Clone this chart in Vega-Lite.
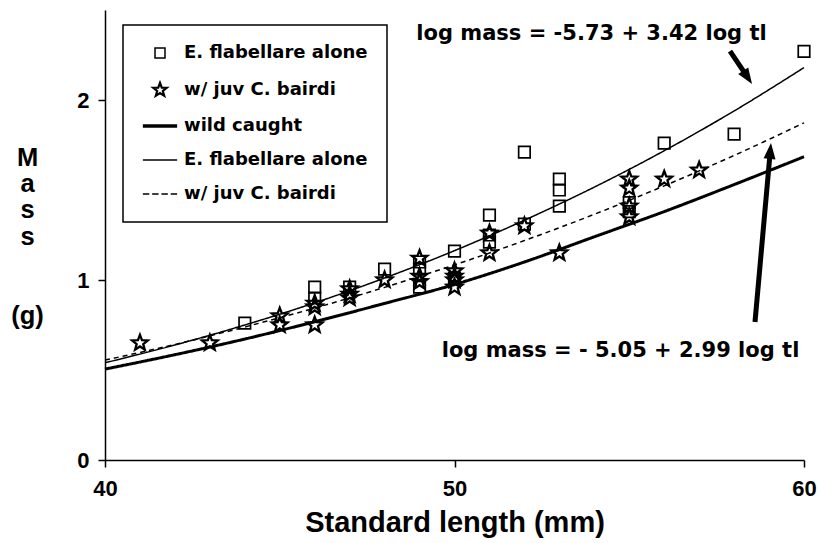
{
  "$schema": "https://vega.github.io/schema/vega-lite/v6.json",
  "width": 699,
  "height": 450,
  "autosize": {"type": "none"},
  "padding": {"left": 105, "top": 10, "right": 15, "bottom": 83},
  "background": "white",
  "config": {"view": {"stroke": null}, "font": "Liberation Sans"},
  "datasets": {
    "curves": [
      {"series": "C", "x": 40, "y": 0.505}, {"series": "C", "x": 42, "y": 0.585}, {"series": "C", "x": 44, "y": 0.672}, {"series": "C", "x": 46, "y": 0.768}, {"series": "C", "x": 48, "y": 0.87}, {"series": "C", "x": 50, "y": 0.975}, {"series": "C", "x": 52, "y": 1.1}, {"series": "C", "x": 54, "y": 1.24}, {"series": "C", "x": 56, "y": 1.38}, {"series": "C", "x": 58, "y": 1.53}, {"series": "C", "x": 60, "y": 1.685},
      {"series": "D", "x": 40, "y": 0.54}, {"series": "D", "x": 42, "y": 0.639}, {"series": "D", "x": 44, "y": 0.75}, {"series": "D", "x": 46, "y": 0.873}, {"series": "D", "x": 48, "y": 1.011}, {"series": "D", "x": 50, "y": 1.163}, {"series": "D", "x": 52, "y": 1.332}, {"series": "D", "x": 54, "y": 1.516}, {"series": "D", "x": 56, "y": 1.718}, {"series": "D", "x": 58, "y": 1.939}, {"series": "D", "x": 60, "y": 2.18},
      {"series": "E", "x": 40, "y": 0.555}, {"series": "E", "x": 42, "y": 0.642}, {"series": "E", "x": 44, "y": 0.739}, {"series": "E", "x": 46, "y": 0.844}, {"series": "E", "x": 48, "y": 0.959}, {"series": "E", "x": 50, "y": 1.084}, {"series": "E", "x": 52, "y": 1.219}, {"series": "E", "x": 54, "y": 1.365}, {"series": "E", "x": 56, "y": 1.523}, {"series": "E", "x": 58, "y": 1.692}, {"series": "E", "x": 60, "y": 1.873}
    ],
    "points": [
      {"series": "A", "x": 44, "y": 0.76}, {"series": "A", "x": 46, "y": 0.96}, {"series": "A", "x": 46, "y": 0.9}, {"series": "A", "x": 47, "y": 0.96}, {"series": "A", "x": 48, "y": 1.06}, {"series": "A", "x": 49, "y": 1.1}, {"series": "A", "x": 49, "y": 1.06}, {"series": "A", "x": 49, "y": 0.96}, {"series": "A", "x": 50, "y": 1.16}, {"series": "A", "x": 50, "y": 1.01}, {"series": "A", "x": 51, "y": 1.36}, {"series": "A", "x": 51, "y": 1.25}, {"series": "A", "x": 51, "y": 1.21}, {"series": "A", "x": 52, "y": 1.71}, {"series": "A", "x": 52, "y": 1.31}, {"series": "A", "x": 53, "y": 1.56}, {"series": "A", "x": 53, "y": 1.5}, {"series": "A", "x": 53, "y": 1.41}, {"series": "A", "x": 55, "y": 1.43}, {"series": "A", "x": 55, "y": 1.38}, {"series": "A", "x": 56, "y": 1.76}, {"series": "A", "x": 58, "y": 1.81}, {"series": "A", "x": 60, "y": 2.27},
      {"series": "B", "x": 41, "y": 0.65}, {"series": "B", "x": 43, "y": 0.65}, {"series": "B", "x": 45, "y": 0.8}, {"series": "B", "x": 45, "y": 0.75}, {"series": "B", "x": 46, "y": 0.87}, {"series": "B", "x": 46, "y": 0.85}, {"series": "B", "x": 46, "y": 0.75}, {"series": "B", "x": 47, "y": 0.95}, {"series": "B", "x": 47, "y": 0.92}, {"series": "B", "x": 47, "y": 0.9}, {"series": "B", "x": 48, "y": 1.0}, {"series": "B", "x": 49, "y": 1.12}, {"series": "B", "x": 49, "y": 1.02}, {"series": "B", "x": 49, "y": 0.99}, {"series": "B", "x": 50, "y": 1.05}, {"series": "B", "x": 50, "y": 1.02}, {"series": "B", "x": 50, "y": 1.0}, {"series": "B", "x": 50, "y": 0.96}, {"series": "B", "x": 51, "y": 1.26}, {"series": "B", "x": 51, "y": 1.15}, {"series": "B", "x": 52, "y": 1.3}, {"series": "B", "x": 53, "y": 1.15}, {"series": "B", "x": 55, "y": 1.56}, {"series": "B", "x": 55, "y": 1.51}, {"series": "B", "x": 55, "y": 1.41}, {"series": "B", "x": 55, "y": 1.35}, {"series": "B", "x": 56, "y": 1.56}, {"series": "B", "x": 57, "y": 1.61}
    ],
    "notes": [
      {"x": 53.92, "y": 2.333, "label": "log mass = -5.73 + 3.42 log tl"},
      {"x": 54.75, "y": 0.572, "label": "log mass = - 5.05 + 2.99 log tl"}
    ],
    "shafts": [
      {"x": 57.883, "y": 2.272, "x2": 58.355, "y2": 2.135},
      {"x": 58.598, "y": 0.767, "x2": 59.03, "y2": 1.706}
    ],
    "heads": [
      {"x": 58.355, "y": 2.135, "angle": 146.4},
      {"x": 59.03, "y": 1.706, "angle": 5.1}
    ]
  },
  "encoding": {
    "x": {
      "field": "x", "type": "quantitative",
      "scale": {"domain": [40, 60], "nice": false, "zero": false},
      "axis": {
        "values": [40, 50, 60], "grid": false,
        "domainColor": "black", "domainWidth": 1.5,
        "tickColor": "black", "tickWidth": 1.5, "tickSize": 7,
        "labelFont": "Liberation Sans", "labelFontWeight": "bold", "labelFontSize": 22, "labelColor": "black",
        "labelPadding": 11, "labelFlush": false, "labelOverlap": false,
        "title": "Standard length (mm)",
        "titleFont": "Liberation Sans", "titleFontWeight": "bold", "titleFontSize": 29, "titleColor": "black", "titlePadding": 9
      }
    },
    "y": {
      "field": "y", "type": "quantitative",
      "scale": {"domain": [0, 2.5], "nice": false, "zero": false},
      "axis": {
        "values": [0, 1, 2], "grid": false,
        "domainColor": "black", "domainWidth": 1.5,
        "tickColor": "black", "tickWidth": 1.5, "tickSize": 7,
        "labelFont": "Liberation Sans", "labelFontWeight": "bold", "labelFontSize": 22, "labelColor": "black",
        "labelPadding": 9,
        "title": ["M", "a", "s", "s", "\u200b", "\u200b", "(g)"],
        "titleAngle": 0, "titleX": -78, "titleY": 155, "titleAlign": "center", "titleBaseline": "alphabetic",
        "titleLineHeight": 26.4,
        "titleFont": "Liberation Sans", "titleFontWeight": "bold", "titleFontSize": 25.5, "titleColor": "black"
      }
    }
  },
  "layer": [
    {
      "data": {"name": "curves"},
      "mark": {"type": "line", "interpolate": "monotone", "color": "black"},
      "encoding": {
        "detail": {"field": "series", "type": "nominal"},
        "strokeWidth": {"condition": {"test": "datum.series === 'C'", "value": 3}, "value": 1.5},
        "strokeDash": {"condition": {"test": "datum.series === 'E'", "value": [5, 4]}, "value": [1, 0]}
      }
    },
    {
      "data": {"name": "points"},
      "mark": {"type": "point", "filled": false, "stroke": "black", "size": 270, "opacity": 1},
      "encoding": {
        "strokeWidth": {"condition": {"test": "datum.series === 'B'", "value": 2.3}, "value": 1.7},
        "shape": {
          "field": "series", "type": "nominal",
          "scale": {
            "domain": ["A", "B", "C", "D", "E"],
            "range": [
              "M-0.7,-0.7H0.7V0.7H-0.7Z",
              "M0,-1L0.247,-0.34L0.951,-0.309L0.399,0.13L0.588,0.809L0,0.42L-0.588,0.809L-0.399,0.13L-0.951,-0.309L-0.247,-0.34Z",
              "M-2.4,0H2.4",
              "M-2.4,0H2.4",
              "M-2.4,0H-1.5M-1.1,0H-0.2M0.2,0H1.1M1.5,0H2.4"
            ]
          },
          "legend": {
            "orient": "none", "legendX": 18, "legendY": 15, "title": null,
            "padding": 19, "strokeColor": "black", "fillColor": "white",
            "symbolOffset": 9, "labelOffset": 15, "rowPadding": 16,
            "symbolSize": 204, "symbolStrokeWidth": 1.5, "symbolFillColor": "transparent", "symbolStrokeColor": "black",
            "labelFont": "DejaVu Sans", "labelFontWeight": "bold", "labelFontSize": 18, "labelColor": "black", "labelLimit": 400,
            "labelExpr": "datum.value === 'A' || datum.value === 'D' ? 'E. flabellare alone' : datum.value === 'C' ? 'wild caught' : 'w/ juv C. bairdi'",
            "encoding": {
              "symbols": {
                "strokeWidth": {"value": {"expr": "datum.value === 'C' ? 3.5 : datum.value === 'B' ? 2.2 : 1.5"}},
                "size": {"value": 204}
              },
              "legend": {"strokeWidth": {"value": 1.5}}
            }
          }
        }
      }
    },
    {
      "data": {"name": "notes"},
      "mark": {"type": "text", "font": "DejaVu Sans", "fontWeight": "bold", "fontSize": 21, "align": "center", "baseline": "alphabetic", "color": "black"},
      "encoding": {"text": {"field": "label", "type": "nominal"}}
    },
    {
      "data": {"name": "shafts"},
      "mark": {"type": "rule", "strokeWidth": 5, "color": "black"},
      "encoding": {
        "x2": {"field": "x2"},
        "y2": {"field": "y2"}
      }
    },
    {
      "data": {"name": "heads"},
      "mark": {"type": "point", "filled": true, "color": "black", "opacity": 1, "size": 400, "shape": "M0,-1L0.6,0.6L-0.6,0.6Z"},
      "encoding": {
        "angle": {"field": "angle", "type": "quantitative", "scale": null}
      }
    }
  ]
}
